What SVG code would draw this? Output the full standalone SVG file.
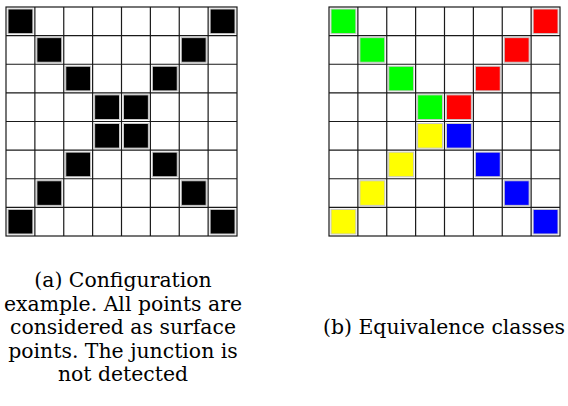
<svg xmlns="http://www.w3.org/2000/svg" width="568" height="406" viewBox="0 0 568 406">
<style>
.grid{fill:none;stroke:#1a1a1a;stroke-width:1.2}
.c{stroke:#c8c8c8;stroke-width:1}
.k{fill:#000}.g{fill:#00ff00}.r{fill:#ff0000}.y{fill:#ffff00}.b{fill:#0000ff}
text{font-family:"DejaVu Serif",serif;font-size:20.4px;fill:#000;text-anchor:middle}
</style>
<defs>
<g id="lines">
<rect x="0" y="0" width="231" height="229" class="grid"/>
<path class="grid" d="M28.875 0V229M57.75 0V229M86.625 0V229M115.5 0V229M144.375 0V229M173.25 0V229M202.125 0V229M0 28.625H231M0 57.25H231M0 85.875H231M0 114.5H231M0 143.125H231M0 171.75H231M0 200.375H231"/>
</g>
<rect id="sq" x="2" y="2" width="24.875" height="24.625"/>
</defs>
<g id="gridA" transform="translate(6,7)">
<use href="#lines"/>
<g class="k c">
<use href="#sq" x="0" y="0"/><use href="#sq" x="202.125" y="0"/>
<use href="#sq" x="28.875" y="28.625"/><use href="#sq" x="173.25" y="28.625"/>
<use href="#sq" x="57.75" y="57.25"/><use href="#sq" x="144.375" y="57.25"/>
<use href="#sq" x="86.625" y="85.875"/><use href="#sq" x="115.5" y="85.875"/>
<use href="#sq" x="86.625" y="114.5"/><use href="#sq" x="115.5" y="114.5"/>
<use href="#sq" x="57.75" y="143.125"/><use href="#sq" x="144.375" y="143.125"/>
<use href="#sq" x="28.875" y="171.75"/><use href="#sq" x="173.25" y="171.75"/>
<use href="#sq" x="0" y="200.375"/><use href="#sq" x="202.125" y="200.375"/>
</g>
</g>
<g id="gridB" transform="translate(329,7)">
<use href="#lines"/>
<g class="g c">
<use href="#sq" x="0" y="0"/><use href="#sq" x="28.875" y="28.625"/><use href="#sq" x="57.75" y="57.25"/><use href="#sq" x="86.625" y="85.875"/>
</g>
<g class="r c">
<use href="#sq" x="202.125" y="0"/><use href="#sq" x="173.25" y="28.625"/><use href="#sq" x="144.375" y="57.25"/><use href="#sq" x="115.5" y="85.875"/>
</g>
<g class="y c">
<use href="#sq" x="86.625" y="114.5"/><use href="#sq" x="57.75" y="143.125"/><use href="#sq" x="28.875" y="171.75"/><use href="#sq" x="0" y="200.375"/>
</g>
<g class="b c">
<use href="#sq" x="115.5" y="114.5"/><use href="#sq" x="144.375" y="143.125"/><use href="#sq" x="173.25" y="171.75"/><use href="#sq" x="202.125" y="200.375"/>
</g>
</g>
<g id="captionA">
<text x="123" y="287">(a) Configuration</text>
<text x="123" y="310.5">example. All points are</text>
<text x="123" y="334">considered as surface</text>
<text x="123" y="357.5">points. The junction is</text>
<text x="123" y="381">not detected</text>
</g>
<g id="captionB">
<text x="444" y="334">(b) Equivalence classes</text>
</g>
</svg>
